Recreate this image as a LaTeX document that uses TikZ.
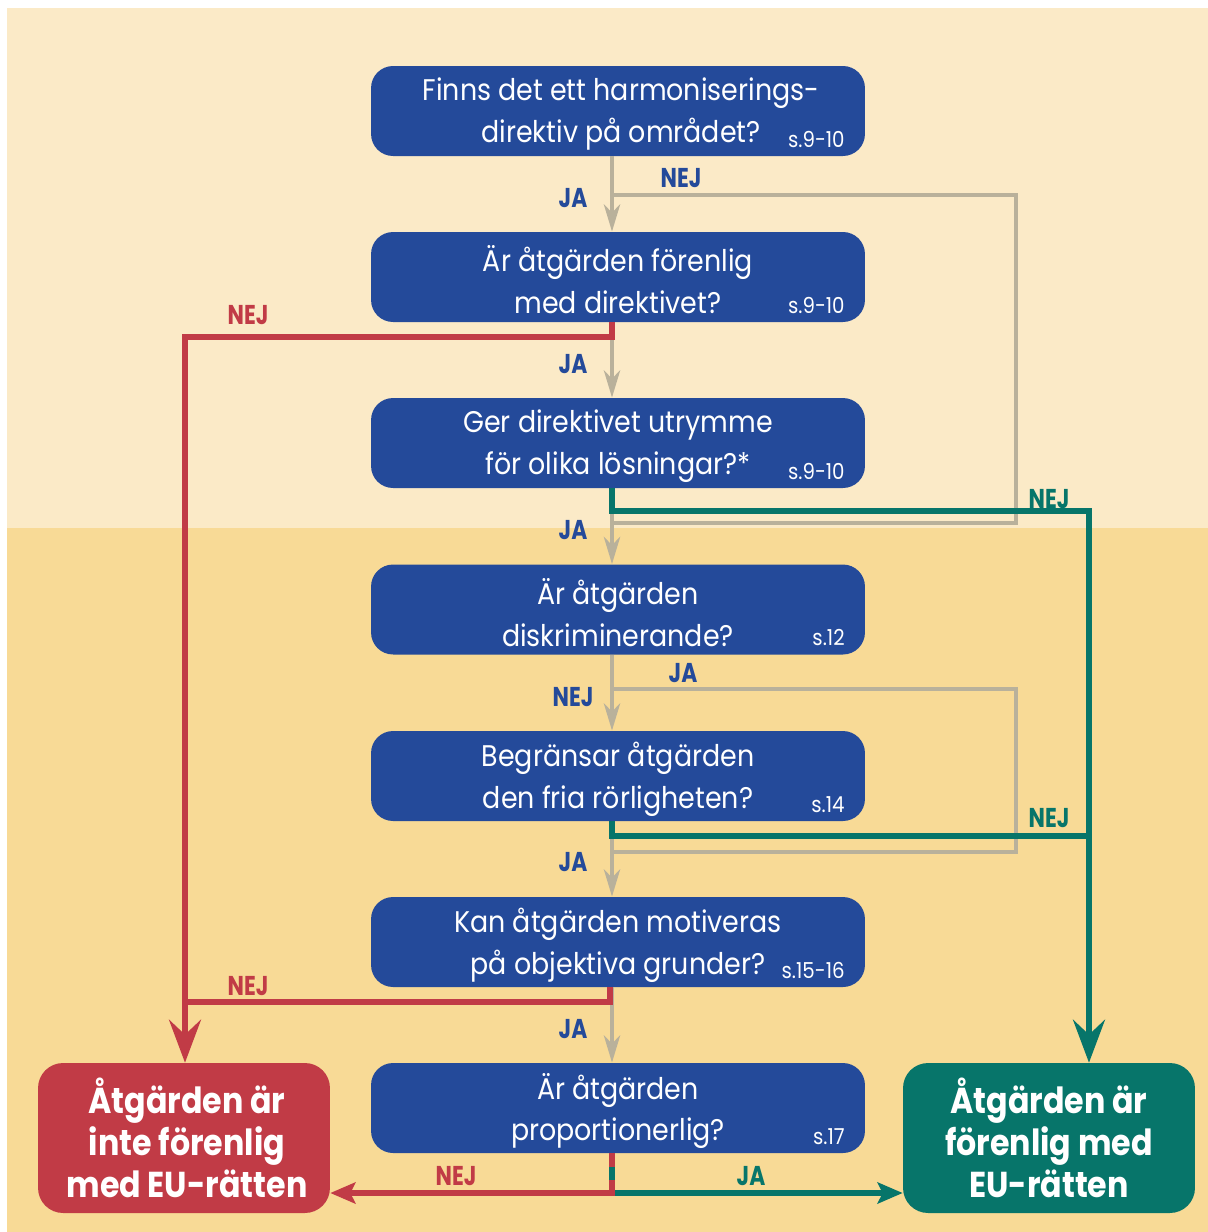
\documentclass[tikz,border=0pt]{standalone}
\usepackage{fontspec}
\setmainfont{Poppins}[FakeStretch=0.9]
\newfontfamily\lblfont{Poppins}[FakeStretch=0.8]
\newfontfamily\endfont{Poppins}[FakeStretch=0.88]
\usetikzlibrary{arrows.meta}
\definecolor{bgA}{HTML}{FBEAC7}
\definecolor{bgB}{HTML}{F8DA96}
\definecolor{qblue}{HTML}{244A9A}
\definecolor{lgray}{HTML}{B9B19B}
\definecolor{nred}{HTML}{C13B46}
\definecolor{ygreen}{HTML}{07756A}
\begin{document}
\begin{tikzpicture}[x=0.02cm,y=-0.02cm,
  qbox/.style={fill=qblue, rounded corners=0.44cm, minimum width=9.88cm, minimum height=1.8cm,
    inner sep=0pt, text=white, align=center, font=\fontsize{17}{23.8}\selectfont},
  qtext/.style={inner sep=0pt, text=white, align=center, font=\fontsize{17}{23.8}\selectfont},
  pref/.style={anchor=base east, text=white, inner sep=0pt, font=\fontsize{12.5}{14}\selectfont},
  endbox/.style={rounded corners=0.5cm, minimum width=5.84cm, minimum height=3cm, inner sep=0pt},
  endtext/.style={inner sep=0pt, text=white, align=center, font=\endfont\fontsize{20.5}{23.8}\selectfont\bfseries},
  glink/.style={draw=lgray, line width=2.8pt},
  rlink/.style={draw=nred, line width=3pt},
  clink/.style={draw=ygreen, line width=3pt},
  gtip/.style={-{Stealth[length=0.54cm, width=0.32cm, inset=0.16cm]}},
  bigtip/.style={-{Stealth[length=0.86cm, width=0.64cm, inset=0.3cm]}},
  smalltip/.style={-{Stealth[length=0.5cm, width=0.42cm, inset=0.1cm]}},
  lbl/.style={inner sep=0pt, font=\lblfont\fontsize{15.5}{16}\selectfont\bfseries},
]
\useasboundingbox (0,0) rectangle (1208,1232);
\fill[white] (0,0) rectangle (1208,1232);
\fill[bgA] (7,8) rectangle (1208,528);
\fill[bgB] (7,528) rectangle (1208,1232);

% question boxes
\node[qbox] (b1) at (618,111) {};
\node[qbox] (b2) at (618,277) {};
\node[qbox] (b3) at (618,443) {};
\node[qbox] (b4) at (618,609.5) {};
\node[qbox] (b5) at (618,776) {};
\node[qbox] (b6) at (618,942) {};
\node[qbox] (b7) at (618,1108) {};

\node[qtext] (t1) at (621,114) {Finns det ett harmoniserings-\\direktiv på området?};
\node[qtext] (t2) at (618,280) {Är åtgärden förenlig\\med direktivet?};
\node[qtext] (t3) at (618,446) {Ger direktivet utrymme\\för olika lösningar?*};
\node[qtext] (t4) at (618,612.5) {Är åtgärden\\diskriminerande?};
\node[qtext] (t5) at (618,779) {Begränsar åtgärden\\den fria rörligheten?};
\node[qtext] (t6) at (618,945) {Kan åtgärden motiveras\\på objektiva grunder?};
\node[qtext] (t7) at (618,1111) {Är åtgärden\\proportionerlig?};

\node[pref] (r1) at (845,147) {s.9-10};
\node[pref] (r2) at (845,313) {s.9-10};
\node[pref] (r3) at (845,479) {s.9-10};
\node[pref] (r4) at (845,645) {s.12};
\node[pref] (r5) at (845,812) {s.14};
\node[pref] (r6) at (845,978) {s.15-16};
\node[pref] (r7) at (845,1144) {s.17};

% end boxes
\node[endbox, fill=nred] (no) at (184,1138) {};
\node[endbox, fill=ygreen] (yes) at (1049,1138) {};
\node[endtext] (not) at (187,1138) {Åtgärden är\\inte förenlig\\med EU-rätten};
\node[endtext] (yest) at (1049,1138) {Åtgärden är\\förenlig med\\EU-rätten};

% coordinates
\coordinate (x) at (612,0);
\coordinate (g1) at (612,195);
\coordinate (g1r) at (1016,195);
\coordinate (g1b) at (1016,523);
\coordinate (g1e) at (612,523);
\coordinate (r2a) at (612,337);
\coordinate (r2b) at (185,337);
\coordinate (c3a) at (612,511);
\coordinate (c3b) at (1089,511);
\coordinate (g4) at (612,689);
\coordinate (g4r) at (1016,689);
\coordinate (g4b) at (1016,852);
\coordinate (g4e) at (612,852);
\coordinate (c5a) at (612,836);
\coordinate (c5b) at (1089,836);
\coordinate (r6a) at (610,1002);
\coordinate (r6b) at (185,1002);
\coordinate (j7) at (612,1193);
\coordinate (j7m) at (612,1167);
\coordinate (j7n) at (612,1180);

% gray links
\draw[glink, gtip] (b1.south -| x) -- (b2.north -| x);
\draw[glink] (g1) -- (g1r) -- (g1b) -- (g1e);
\draw[glink, gtip] (b2.south -| x) -- (b3.north -| x);
\draw[glink, gtip] (b3.south -| x) -- (b4.north -| x);
\draw[glink, gtip] (b4.south -| x) -- (b5.north -| x);
\draw[glink] (g4) -- (g4r) -- (g4b) -- (g4e);
\draw[glink, gtip] (b5.south -| x) -- (b6.north -| x);
\draw[glink, gtip] (b6.south -| x) -- (b7.north -| x);

% red links
\draw[rlink, bigtip] (b2.south -| x) -- (r2a) -- (r2b) -- (no.north -| r2b);
\draw[rlink] (b6.south -| r6a) -- (r6a) -- (r6b);
% green links
\draw[clink, bigtip] (b3.south -| x) -- (c3a) -- (c3b) -- (yes.north -| c3b);
\draw[clink] (b5.south -| x) -- (c5a) -- (c5b);
% bottom split
\draw[clink, smalltip] (j7m) -- (j7) -- (yes.west |- j7);
\draw[rlink] (b7.south -| x) -- (j7m);
\draw[rlink, smalltip] (j7n) -- (j7) -- (no.east |- j7);

% labels
\node[lbl, text=qblue] (l1) at (573,198) {JA};
\node[lbl, text=qblue] (l2) at (681,178) {NEJ};
\node[lbl, text=nred] (l3) at (248,315) {NEJ};
\node[lbl, text=qblue] (l4) at (573,364) {JA};
\node[lbl, text=qblue] (l5) at (573,530) {JA};
\node[lbl, text=ygreen] (l6) at (1049,499) {NEJ};
\node[lbl, text=qblue] (l7) at (683,673) {JA};
\node[lbl, text=qblue] (l8) at (573,697) {NEJ};
\node[lbl, text=ygreen] (l9) at (1049,818) {NEJ};
\node[lbl, text=qblue] (l10) at (573,862) {JA};
\node[lbl, text=nred] (l11) at (248,986) {NEJ};
\node[lbl, text=qblue] (l12) at (573,1029) {JA};
\node[lbl, text=nred] (l13) at (456,1176) {NEJ};
\node[lbl, text=ygreen] (l14) at (751,1176) {JA};
\end{tikzpicture}
\end{document}
